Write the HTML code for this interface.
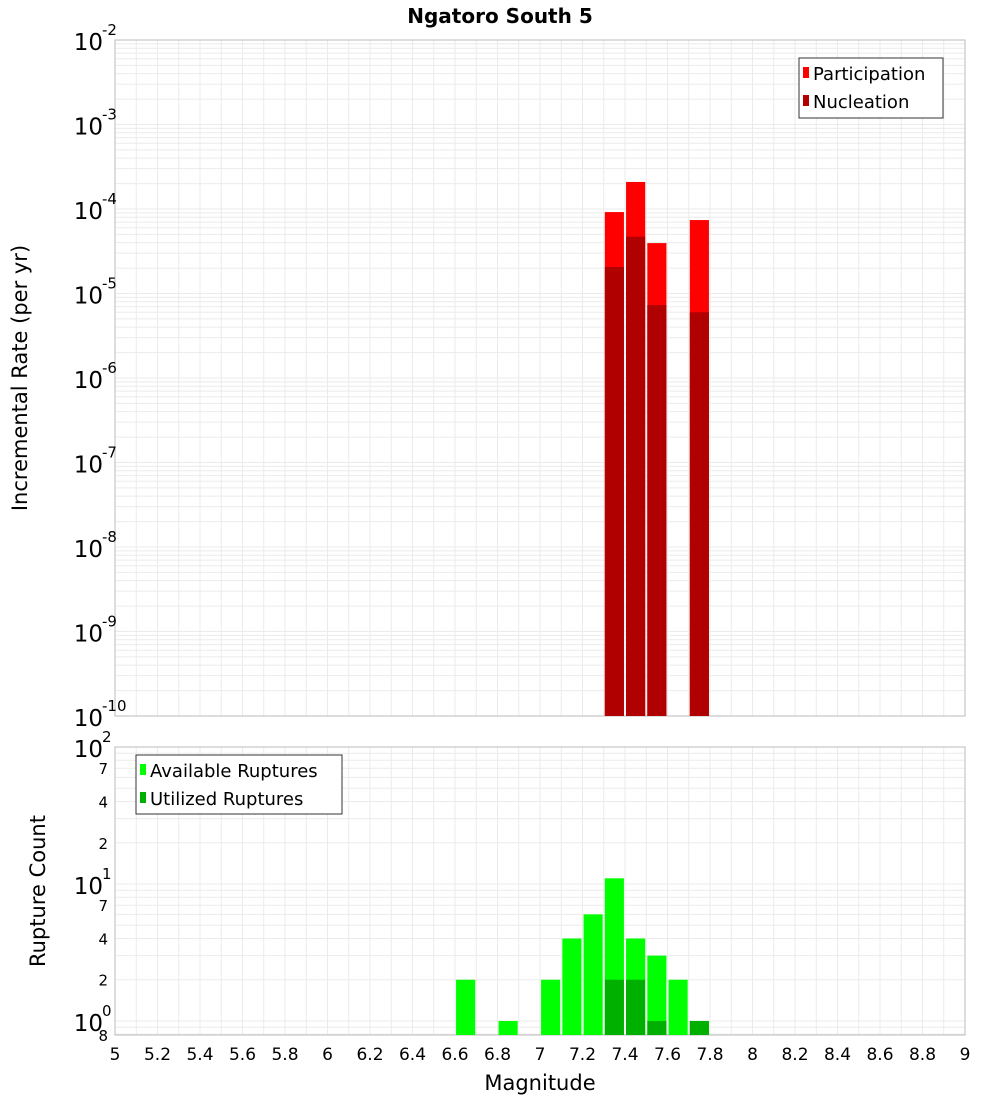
<!DOCTYPE html>
<html><head><meta charset="utf-8"><style>
body{margin:0;background:#fff;}
svg{display:block;font-family:"DejaVu Sans","Liberation Sans",sans-serif;}
</style></head><body>
<svg id="chart" width="1000" height="1100" xmlns="http://www.w3.org/2000/svg">
<text x="500" y="23" text-anchor="middle" font-size="20" font-weight="bold">Ngatoro South 5</text>
<g id="gtop"></g><g id="gbot"></g>
<text transform="translate(27,378) rotate(-90)" text-anchor="middle" font-size="21">Incremental Rate (per yr)</text>
<text transform="translate(45,891) rotate(-90)" text-anchor="middle" font-size="21">Rupture Count</text>
<text x="540" y="1090" text-anchor="middle" font-size="21">Magnitude</text>
<g>
<rect x="799" y="58" width="144" height="60" fill="#fff" stroke="#333"/>
<rect x="803" y="67" width="6" height="11" fill="#ff0000"/><text x="813" y="80" font-size="18">Participation</text>
<rect x="803" y="95" width="6" height="11" fill="#b00000"/><text x="813" y="108" font-size="18">Nucleation</text>
</g>
<g>
<rect x="136" y="755" width="206" height="59" fill="#fff" stroke="#333"/>
<rect x="140" y="764" width="6" height="11" fill="#00ff00"/><text x="150" y="777" font-size="18">Available Ruptures</text>
<rect x="140" y="792" width="6" height="11" fill="#00b000"/><text x="150" y="805" font-size="18">Utilized Ruptures</text>
</g>
</svg>
<script>
const mags=[7.35,7.45,7.55,7.75];
const participation=[9.2e-5,2.09e-4,3.95e-5,7.4e-5];
const nucleation=[2.06e-5,4.7e-5,7.3e-6,6.0e-6];
const countMags=[6.65,6.85,7.05,7.15,7.25,7.35,7.45,7.55,7.65,7.75];
const available=[2,1,2,4,6,11,4,3,2,1];
const utilMags=[7.35,7.45,7.55,7.75];
const utilized=[2,2,1,1];
const xTicks=[5,5.2,5.4,5.6,5.8,6,6.2,6.4,6.6,6.8,7,7.2,7.4,7.6,7.8,8,8.2,8.4,8.6,8.8,9];
const topExps=[-2,-3,-4,-5,-6,-7,-8,-9,-10];
const botMinor=[2,4,7,20,40,70];

const NS='http://www.w3.org/2000/svg';
const X0=115,X1=965;
const xs=m=>X0+(m-5)/4*(X1-X0);
const TY0=40,TY1=716;
const yTop=v=>TY0+(-2-Math.log10(v))/8*(TY1-TY0);
const BY0=747,BY1=1035,BMIN=0.79;
const yBot=v=>BY1-(Math.log10(v)-Math.log10(BMIN))/(2-Math.log10(BMIN))*(BY1-BY0);
function mk(p,t,a,txt){const e=document.createElementNS(NS,t);for(const k in a)e.setAttribute(k,a[k]);if(txt!==undefined)e.textContent=txt;p.appendChild(e);return e;}
const gTop=document.getElementById('gtop'),gBot=document.getElementById('gbot');
function grid(g,y0,y1,yvals,yf){
  for(let i=0;i<=40;i++){const m=5+i*0.1;mk(g,'line',{x1:xs(m),x2:xs(m),y1:y0,y2:y1,stroke:'#ebebeb'});}
  yvals.forEach(v=>{const yy=yf(v);if(yy>=y0&&yy<=y1)mk(g,'line',{x1:X0,x2:X1,y1:yy,y2:yy,stroke:'#ebebeb'});});
  mk(g,'rect',{x:X0,y:y0,width:X1-X0,height:y1-y0,fill:'none',stroke:'#bbb'});
}
let tv=[];for(let e=-10;e<-2;e++)for(let k=1;k<10;k++)tv.push(k*Math.pow(10,e));
grid(gTop,TY0,TY1,tv,yTop);
let bv=[];for(let e=-1;e<2;e++)for(let k=1;k<10;k++)bv.push(k*Math.pow(10,e));
grid(gBot,BY0,BY1,bv,yBot);
const bw=0.09;
mags.forEach((m,i)=>{
  const r=mk(gTop,'rect',{x:xs(m-bw/2),y:yTop(participation[i]),width:xs(m+bw/2)-xs(m-bw/2),height:TY1-yTop(participation[i]),fill:'#ff0000'});
  
  
  const n=mk(gTop,'rect',{x:xs(m-bw/2),y:yTop(nucleation[i]),width:xs(m+bw/2)-xs(m-bw/2),height:TY1-yTop(nucleation[i]),fill:'#b00000'});
  
  
});
countMags.forEach((m,i)=>{
  const r=mk(gBot,'rect',{x:xs(m-bw/2),y:yBot(available[i]),width:xs(m+bw/2)-xs(m-bw/2),height:BY1-yBot(available[i]),fill:'#00ff00'});
  
  
});
utilMags.forEach((m,i)=>{
  const r=mk(gBot,'rect',{x:xs(m-bw/2),y:yBot(utilized[i]),width:xs(m+bw/2)-xs(m-bw/2),height:BY1-yBot(utilized[i]),fill:'#00b000'});
  
  
});
topExps.forEach(e=>{
  const yy=yTop(Math.pow(10,e));
  const t=mk(gTop,'text',{x:103,y:yy+10,'text-anchor':'end','font-size':23},'10');
  
  
  const s=mk(gTop,'text',{x:102,y:yy-5,'font-size':15},String(e));
  
  
});
[[100,'2'],[10,'1'],[1,'0']].forEach(([v,ex])=>{
  const yy=yBot(v);
  const t=mk(gBot,'text',{x:103,y:yy+10,'text-anchor':'end','font-size':23},'10');
  
  
  const s=mk(gBot,'text',{x:102,y:yy-5,'font-size':15},ex);
  
  
});
botMinor.forEach(v=>{
  const t=mk(gBot,'text',{x:108,y:yBot(v)+6,'text-anchor':'end','font-size':15},String(v).charAt(0));
  
  
});
const t8=mk(gBot,'text',{x:108,y:1041,'text-anchor':'end','font-size':15},'8');


xTicks.forEach(m=>{
  const t=mk(gBot,'text',{x:xs(m),y:1060,'text-anchor':'middle','font-size':17},String(m));
  
  
});
</script>
</body></html>
